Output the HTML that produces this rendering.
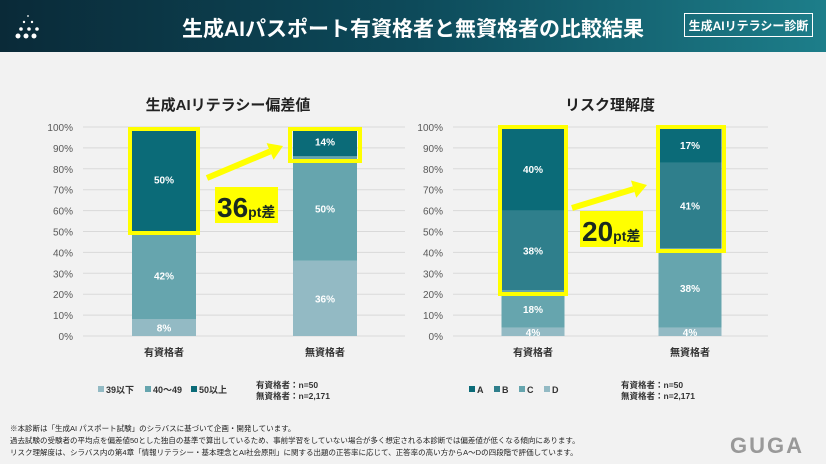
<!DOCTYPE html>
<html><head><meta charset="utf-8"><style>
body{margin:0;width:826px;height:464px;overflow:hidden;background:#f2f2f2;font-family:"Liberation Sans","Noto Sans CJK JP",sans-serif;position:relative}
.hdr{position:absolute;left:0;top:0;width:826px;height:52px;background:linear-gradient(90deg,#0a2a38 0%,#0d4a5a 50%,#1d7e8a 100%)}
.ttl{position:absolute;left:0;width:826px;top:13px;text-align:center;color:#fff;font-size:21px;font-weight:bold}
.badge{position:absolute;left:684px;top:13px;width:129px;height:24px;border:1px solid #fff;color:#fff;font-size:12px;font-weight:bold;text-align:center;line-height:24px;box-sizing:border-box}
.note{position:absolute;left:10px;font-size:7.5px;color:#222}
</style></head><body>
<div class="hdr"></div>
<svg style="position:absolute;left:14px;top:12px" width="30" height="30">
<g fill="#fff"><circle cx="4" cy="24" r="2.5"/><circle cx="12" cy="24" r="2.5"/><circle cx="20" cy="24" r="2.5"/><circle cx="7" cy="17" r="1.8"/><circle cx="15" cy="17" r="1.8"/><circle cx="23" cy="17" r="1.8"/><circle cx="10" cy="10" r="1.2"/><circle cx="18" cy="10" r="1.2"/><circle cx="14" cy="4" r="0.9"/></g></svg>
<div class="ttl">生成AIパスポート有資格者と無資格者の比較結果</div>
<div class="badge">生成AIリテラシー診断</div>
<svg id="ch" width="826" height="464" style="position:absolute;left:0;top:0" font-family="Liberation Sans, Noto Sans CJK JP, sans-serif"></svg>
<div class="note" style="top:423px">※本診断は「生成AI パスポート試験」のシラバスに基づいて企画・開発しています。</div>
<div class="note" style="top:435px">過去試験の受験者の平均点を偏差値50とした独自の基準で算出しているため、事前学習をしていない場合が多く想定される本診断では偏差値が低くなる傾向にあります。</div>
<div class="note" style="top:447px">リスク理解度は、シラバス内の第4章「情報リテラシー・基本理念とAI社会原則」に関する出題の正答率に応じて、正答率の高い方からA～Dの四段階で評価しています。</div>
<div style="position:absolute;left:730px;top:433px;font-size:22px;font-weight:bold;color:#999;letter-spacing:2px">GUGA</div>
<script>
const cats=["有資格者","無資格者"];
const leftSeries=["39以下","40～49","50以上"];
const leftVals=[[8,42,50],[36,50,14]];
const rightSeries=["D","C","B","A"];
const rightVals=[[4,18,38,40],[4,38,41,17]];
const yTicks=[0,10,20,30,40,50,60,70,80,90,100];
const svg=document.getElementById('ch');const NS="http://www.w3.org/2000/svg";
function mk(t,a,txt){const e=document.createElementNS(NS,t);for(const k in a)e.setAttribute(k,a[k]);if(txt!=null)e.textContent=txt;svg.appendChild(e);return e;}
const plotTop=127,plotBot=336;const y=v=>plotBot-(plotBot-plotTop)*v/100;
function chart(x0,x1,centers,bw,series,vals,colors,title,tx,prefix){
  let t=mk('text',{x:tx,y:110,'text-anchor':'middle','font-size':15,'font-weight':'bold',fill:'#222'},title);
  
  yTicks.forEach(v=>{let l=mk('line',{x1:x0,x2:x1,y1:y(v),y2:y(v),stroke:'#d9d9d9','stroke-width':1});
    
    let tl=mk('text',{x:x0-10,y:y(v)+4,'text-anchor':'end','font-size':10,fill:'#595959'},v+'%');
    });
  vals.forEach((arr,i)=>{let c=0;arr.forEach((v,j)=>{const yt=y(c+v),yb=y(c);
    let r=mk('rect',{x:centers[i]-bw/2,y:yt,width:bw,height:yb-yt,fill:colors[j]});
    
    let lt=mk('text',{x:centers[i],y:(yt+yb)/2+4,'text-anchor':'middle','font-size':10,'font-weight':'bold',fill:'#fff'},v+'%');
    
    c+=v;});
    let cl=mk('text',{x:centers[i],y:356,'text-anchor':'middle','font-size':10,'font-weight':'bold',fill:'#333'},cats[i]);
    });
}
const lc=["#93bac4","#66a5ae","#0b6b78"],rc=["#93bac4","#66a5ae","#2f7f8c","#0b6b78"];
chart(83,405,[164,325],64,leftSeries,leftVals,lc,"生成AIリテラシー偏差値",228,'left');
chart(453,768,[533,690],63,rightSeries,rightVals,rc,"リスク理解度",610,'right');
function hl(x,y0,w,h,n){let r=mk('rect',{x:x,y:y0,width:w,height:h,fill:'none',stroke:'#ffff00','stroke-width':4});}
hl(130,129,68,104,'left-highlight-1');hl(290,129,70,32,'left-highlight-2');
hl(500,127,66,167,'right-highlight-1');hl(658,127,66,124,'right-highlight-2');
function arrow(x1,y1,x2,y2,n){const a=Math.atan2(y2-y1,x2-x1),L=14;
 let l=mk('line',{x1:x1,y1:y1,x2:x2-Math.cos(a)*L,y2:y2-Math.sin(a)*L,stroke:'#ffff00','stroke-width':6});
 const p=[[x2,y2],[x2-Math.cos(a)*L-Math.sin(a)*9,y2-Math.sin(a)*L+Math.cos(a)*9],[x2-Math.cos(a)*L+Math.sin(a)*9,y2-Math.sin(a)*L-Math.cos(a)*9]];
 let h=mk('polygon',{points:p.map(q=>q.join(',')).join(' '),fill:'#ffff00'});}
arrow(207,178,283,146,'left-arrow');arrow(572,208,647,185,'right-arrow');
function diff(x,y0,txt,n){let r=mk('rect',{x:x,y:y0,width:63,height:36,fill:'#ffff00'});
 let t=mk('text',{x:x+2,y:y0+30,'font-size':28,'font-weight':'bold',fill:'#1a2a20'});
 t.innerHTML=txt+'<tspan font-size="14">pt差</tspan>';}
diff(215,187,'36','left-diff-label');diff(580,211,'20','right-diff-label');
function leg(x,c,txt,n){let r=mk('rect',{x:x,y:386,width:6,height:6,fill:c});
 let t=mk('text',{x:x+8,y:393,'font-size':9,'font-weight':'bold',fill:'#333'},txt);}
leg(98,lc[0],leftSeries[0],'legend-39');leg(145,lc[1],leftSeries[1],'legend-40-49');leg(191,lc[2],leftSeries[2],'legend-50');
leg(469,rc[3],'A','legend-a');leg(494,rc[2],'B','legend-b');leg(519,rc[1],'C','legend-c');leg(544,rc[0],'D','legend-d');
[[256,'left'],[621,'right']].forEach(([x,p])=>{
 let a=mk('text',{x:x,y:388,'font-size':8.5,'font-weight':'bold',fill:'#333'},'有資格者：n=50');
 let b=mk('text',{x:x,y:399,'font-size':8.5,'font-weight':'bold',fill:'#333'},'無資格者：n=2,171');});
</script>
</body></html>
